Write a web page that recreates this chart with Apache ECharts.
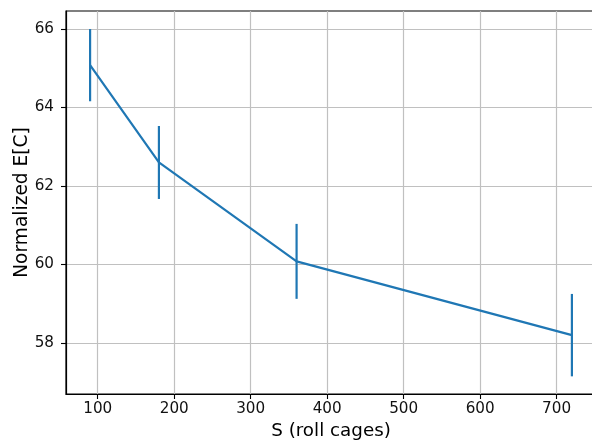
<!DOCTYPE html>
<html>
<head>
<meta charset="utf-8">
<script src="https://cdn.jsdelivr.net/npm/echarts@6/dist/echarts.min.js"></script>
<style>html,body{margin:0;padding:0;background:#fff}#c{width:592px;height:440px}</style>
</head>
<body>
<div id="c"></div>
<script>
const sizes = [90, 180, 360, 720];
const means = [65.08, 62.6, 60.08, 58.2];
const errors = [0.92, 0.93, 0.955, 1.05];
const xTicks = [100, 200, 300, 400, 500, 600, 700];
const yTicks = [58, 60, 62, 64, 66];

const lineData = sizes.map((s, i) => [s, means[i]]);
const errData = sizes.map((s, i) => [s, means[i] - errors[i], means[i] + errors[i]]);

const font = 'DejaVu Sans';
const chart = echarts.init(document.getElementById('c'), null, {renderer: 'canvas'});
chart.setOption({
  animation: false,
  backgroundColor: '#fff',
  grid: {left: 66, top: 11, width: 530, height: 383, show: true, borderColor: '#000', borderWidth: 1.2, backgroundColor: 'transparent', containLabel: false, outerBoundsMode: 'none'},
  xAxis: {
    type: 'value', min: 58.5, max: 751.5,
    name: 'S (roll cages)', nameLocation: 'middle', nameGap: 26,
    nameTextStyle: {fontFamily: font, fontSize: 18.3, color: '#000'},
    axisLine: {show: true, onZero: false, lineStyle: {color: '#000', width: 1.2}},
    axisTick: {show: true, inside: false, length: 5, lineStyle: {color: '#000', width: 1.1}, customValues: xTicks},
    axisLabel: {fontFamily: font, fontSize: 15.2, color: '#111', margin: 8, customValues: xTicks},
    splitLine: {show: true, lineStyle: {color: '#c0c0c0', width: 1.2}, customValues: xTicks}
  },
  yAxis: {
    type: 'value', min: 56.7, max: 66.46,
    name: 'Normalized E[C]', nameLocation: 'middle', nameGap: 34, nameMoveOverlap: false,
    nameTextStyle: {fontFamily: font, fontSize: 18.6, color: '#000'},
    axisLine: {show: true, onZero: false, lineStyle: {color: '#000', width: 1.2}},
    axisTick: {show: true, inside: false, length: 5, lineStyle: {color: '#000', width: 1.1}, customValues: yTicks},
    axisLabel: {fontFamily: font, fontSize: 15.2, color: '#111', margin: 12, customValues: yTicks},
    splitLine: {show: true, lineStyle: {color: '#c0c0c0', width: 1.2}, customValues: yTicks}
  },
  series: [
    {
      type: 'line', data: lineData, symbol: 'none',
      lineStyle: {color: '#1f77b4', width: 2.2}, z: 3
    },
    {
      type: 'custom', data: errData, z: 4,
      renderItem: function (params, api) {
        const p1 = api.coord([api.value(0), api.value(1)]);
        const p2 = api.coord([api.value(0), api.value(2)]);
        return {type: 'line', shape: {x1: p1[0], y1: p1[1], x2: p2[0], y2: p2[1]},
          style: {stroke: '#1f77b4', lineWidth: 2.2}};
      }
    }
  ]
});
</script>
</body>
</html>
